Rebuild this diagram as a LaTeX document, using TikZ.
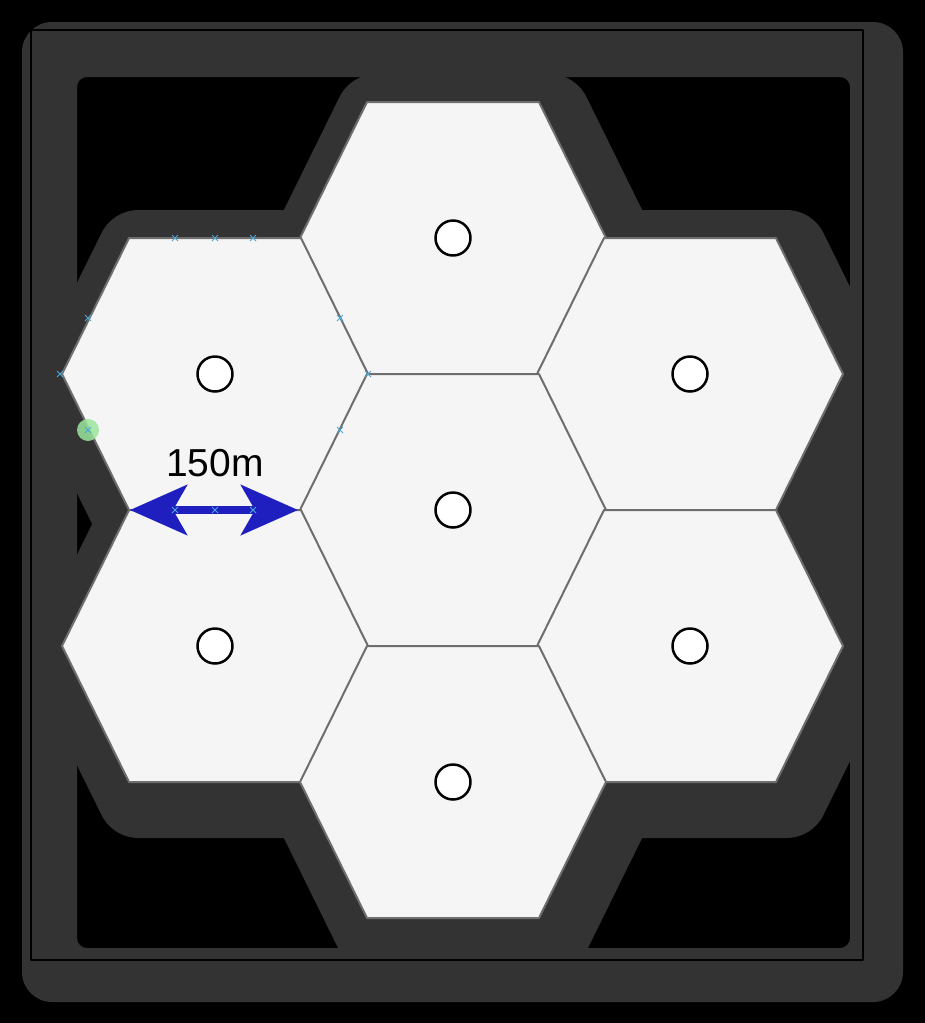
\documentclass[tikz,border=0pt]{standalone}
\usepackage{fontspec}
\setmainfont{Liberation Sans}
\usetikzlibrary{arrows.meta}
\definecolor{bandgray}{HTML}{333333}
\definecolor{cellfill}{HTML}{F5F5F5}
\definecolor{cellline}{HTML}{6E6E6E}
\definecolor{arrowblue}{HTML}{1F1FBF}
\definecolor{handleblue}{HTML}{4AA8D8}
\definecolor{handlegreen}{HTML}{9BE69B}
\begin{document}
\begin{tikzpicture}[x=1pt, y=-1pt, line join=round,
    >={Stealth[length=57pt, width=50pt, inset=14pt]},
    hexcell/.style={fill=cellfill, draw=cellline, line width=2pt},
    hexhalo/.style={draw=bandgray, fill=bandgray, line width=84pt},
    site/.style={circle, draw=black, fill=white, line width=2.5pt, minimum size=35pt, inner sep=0pt},
    handle/.style={draw=handleblue, line width=1pt}]
    \fill[black] (0,0) rectangle (925,1023);
    \useasboundingbox (0,0) rectangle (925,1023);
    % frame round the cells
    \fill[bandgray, even odd rule, rounded corners=30pt] (22,22) rectangle (903,1002)
        [rounded corners=10pt] (77,77) rectangle (850,948);
    \fill[bandgray] (800,420) rectangle (862,600);
    % halo and cells
    \foreach \cx/\cy in {453/238, 215/374, 690/374, 453/510, 215/646, 690/646, 453/782}
        \draw[hexhalo] (\cx-143,\cy+14) -- ++(67,-136) -- ++(172,0) -- ++(67,136) -- ++(-67,136) -- ++(-172,0) -- cycle;
    \foreach \cx/\cy in {453/238, 215/374, 690/374, 453/510, 215/646, 690/646, 453/782}
        \draw[hexcell] (\cx-153,\cy) -- ++(67,-136) -- ++(172,0) -- ++(67,136) -- ++(-67,136) -- ++(-172,0) -- cycle;
    \draw[black, line width=1.2pt] (31,30) rectangle (863,960);
    % sites
    \foreach \cx/\cy/\nm in {453/238/n, 215/374/nw, 690/374/ne, 453/510/c, 215/646/sw, 690/646/se, 453/782/s}
        \node[site] (site-\nm) at (\cx,\cy) {};
    % selection handles
    \fill[handlegreen, opacity=0.85] (88,430) circle (11pt);
    \foreach \hx/\hy in {175/238, 215/238, 253/238, 88/318, 60/374, 340/318, 368/374, 340/430, 88/430}
        \draw[handle] (\hx-3,\hy-3) -- (\hx+3,\hy+3) (\hx-3,\hy+3) -- (\hx+3,\hy-3);
    % distance
    \coordinate (dist-l) at (130,510);
    \coordinate (dist-r) at (298,510);
    \draw[arrowblue, line width=8pt, <->] (dist-l) -- (dist-r);
    \foreach \hx in {175, 215, 253}
        \draw[handle] (\hx-3,507) -- (\hx+3,513) (\hx-3,513) -- (\hx+3,507);
    \node[font=\fontsize{39}{46}\selectfont] (dist) at (215,463) {150m};
\end{tikzpicture}
\end{document}
